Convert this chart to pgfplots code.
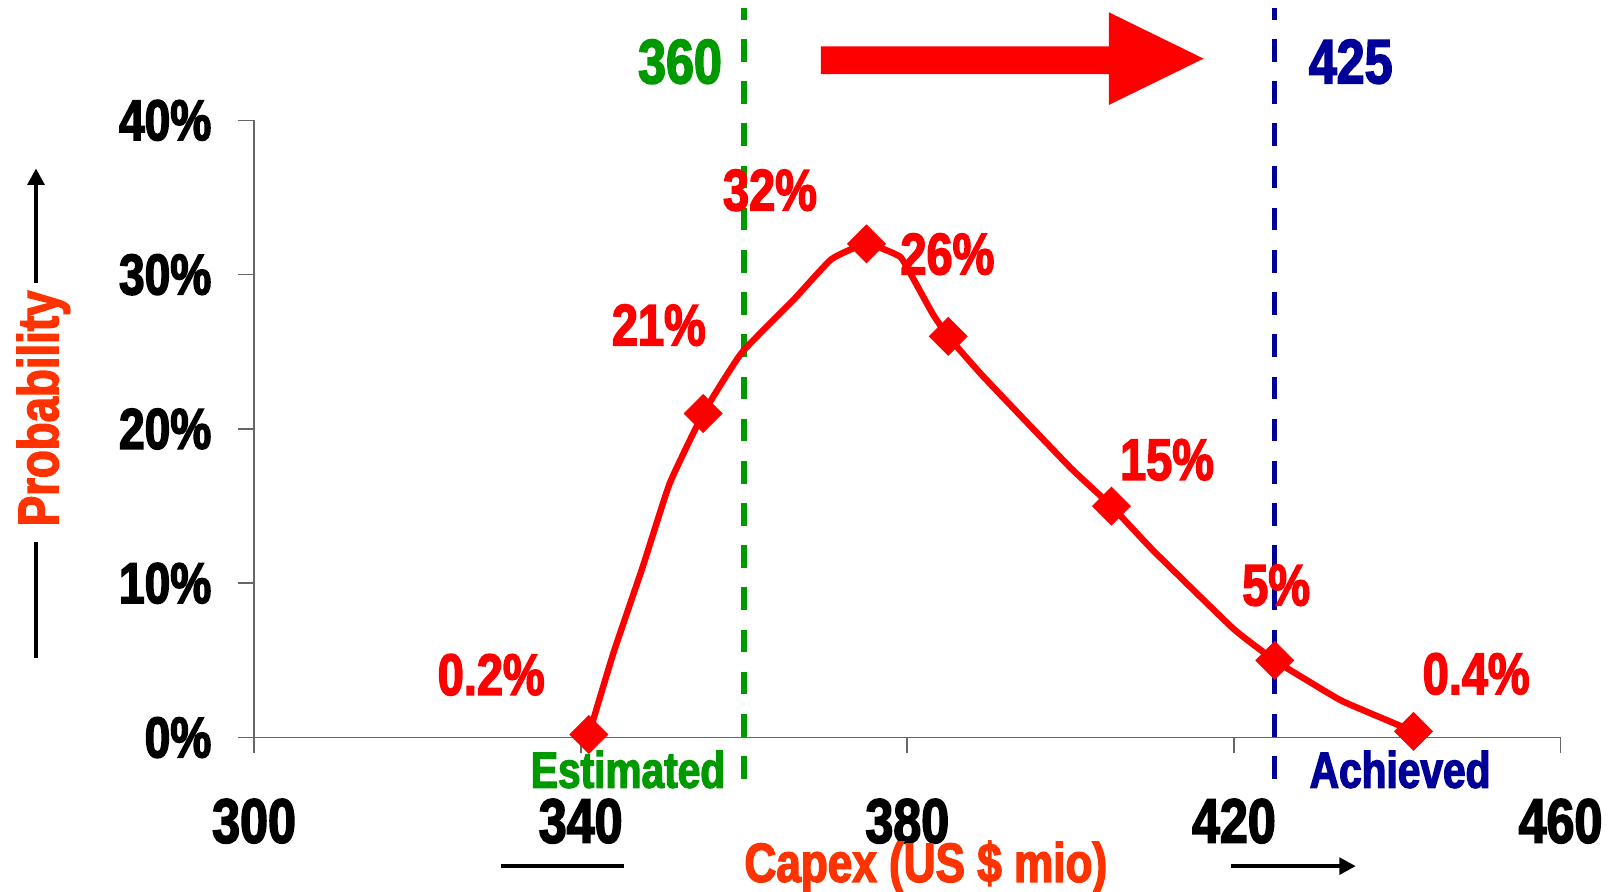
\documentclass[border=0pt]{standalone}
\usepackage{pgfplots}
\pgfplotsset{compat=1.18}
\usepackage{fontspec}
\setmainfont{Liberation Sans}
\newfontfamily\impact{Liberation Sans}[FakeStretch=0.8, BoldFeatures={FakeBold=2.5}]
\usetikzlibrary{arrows.meta}

\definecolor{curvered}{HTML}{FF0000}
\definecolor{labelorange}{HTML}{FF3300}
\definecolor{estgreen}{HTML}{009900}
\definecolor{achnavy}{HTML}{000099}
\definecolor{axisgray}{HTML}{666666}

\newcommand{\fs}[1]{\impact\bfseries\fontsize{#1}{#1}\selectfont}

% probability curve (Capex in US$ mio, probability in %)
\pgfplotstableread{
x      y
341    0.2
344.0  5.47
347.6  11.07
350.9  16.47
355    21
359.7  24.93
366.0  28.33
370.7  31.0
375    32
379.1  31.17
380.8  29.67
383.1  27.47
385    26
389.3  23.4
399.9  17.53
405    15
410.1  12.13
419.9  7.07
425    5
429.3  3.6
433.4  2.33
442    0.4
}\curve

% labelled points
\pgfplotstableread{
x    y
341  0.2
355  21
375  32
385  26
405  15
425  5
442  0.4
}\points

\begin{document}
\begin{tikzpicture}
\useasboundingbox (-123.5pt,-75pt) rectangle (660.5pt,358.5pt);
\begin{axis}[
  at={(0,0)}, anchor=south west,
  scale only axis,
  width=635pt, height=300pt,
  xmin=300, xmax=460, ymin=0, ymax=40,
  axis lines=left,
  axis line style={-, axisgray, line width=0.8pt},
  tick style={axisgray, line width=0.8pt},
  tick align=outside,
  major tick length=7.6pt,
  xtick={300,340,380,420,460},
  xticklabels={300,340,380,420,460},
  ytick={0,10,20,30,40},
  yticklabels={0\%,10\%,20\%,30\%,40\%},
  xticklabel style={font=\fs{30.5}, text=black, inner sep=0pt, anchor=north, yshift=-22pt},
  yticklabel style={font=\fs{28}, text=black, inner sep=0pt, anchor=east, xshift=-13pt},
  clip=false,
]
% reference lines for estimated and achieved capex
\draw[estgreen, line width=2.5pt, dash pattern=on 11pt off 9.5pt] (360,-2.67) -- (360,47.27);
\draw[achnavy, line width=2.5pt, dash pattern=on 11pt off 9.5pt] (425,-2.67) -- (425,47.27);

\addplot[curvered, line width=3.1pt, line join=round, smooth, tension=0.25, no marks] table[x=x, y=y] {\curve};
\addplot[only marks, mark=square*, mark size=6.5pt, mark options={rotate=45, fill=curvered, draw=curvered}] table[x=x, y=y] {\points};

% value labels
\begin{scope}[every node/.style={inner sep=0pt, text=curvered, font=\fs{28.5}}]
\node at (329.04,4.07) {0.2\%};
\node at (349.57,26.73) {21\%};
\node at (363.18,35.47) {32\%};
\node at (384.91,31.33) {26\%};
\node at (411.81,18.0) {15\%};
\node at (425.17,9.87) {5\%};
\node at (449.67,4.13) {0.4\%};
\end{scope}

% big shift arrow
\fill[curvered] (369.42,44.8) -- (404.69,44.8) -- (404.69,47.0) -- (416.28,44.0)
  -- (404.69,41.0) -- (404.69,43.0) -- (369.42,43.0) -- cycle;

\node[inner sep=0pt, text=estgreen, font=\fs{30.5}] at (352.16,43.8) {360};
\node[inner sep=0pt, text=achnavy, font=\fs{30.5}] at (434.30,43.8) {425};
\node[inner sep=0pt, text=estgreen, font=\fs{24.7}] at (345.8,-2.07) {Estimated};
\node[inner sep=0pt, text=achnavy, font=\fs{24.7}] at (440.35,-2.07) {Achieved};

% axis titles with their arrows
\node[inner sep=0pt, anchor=base, text=labelorange, font=\fs{26.8}] at (382.27,-9.35) {Capex (US \$ mio)};
\draw[black, line width=2pt] (330.24,-8.33) -- (345.35,-8.33);
\draw[black, line width=2pt, -{Triangle[length=8pt,width=8pt]}] (419.69,-8.33) -- (434.93,-8.33);

\node[inner sep=0pt, anchor=base, rotate=90, text=labelorange, font=\fs{27.7}] at (276.0,21.33) {Probability};
\draw[black, line width=2pt] (273.29,5.13) -- (273.29,12.69);
\draw[black, line width=2pt, -{Triangle[length=8pt,width=8pt]}] (273.29,29.44) -- (273.29,36.89);
\end{axis}
\end{tikzpicture}
\end{document}
